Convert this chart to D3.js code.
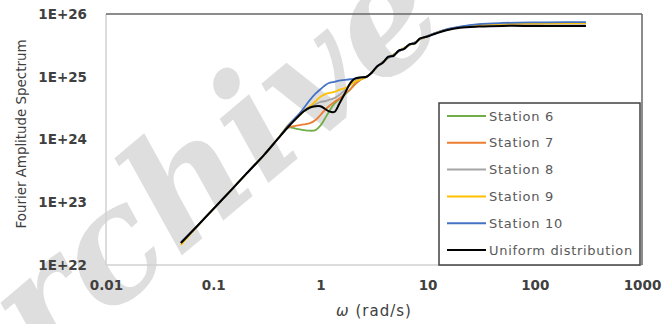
<!DOCTYPE html>
<html><head><meta charset="utf-8">
<script src="https://cdn.jsdelivr.net/npm/d3@7"></script>
<style>html,body{margin:0;padding:0;background:#fff;}svg{display:block;}</style>
</head><body>
<svg id="c" width="662" height="324"></svg>
<script>
const omega = [0.05,0.07,0.1,0.15,0.2,0.3,0.4,0.5,0.6,0.7,0.8,0.9,1.0,1.1,1.2,1.35,1.5,1.7,1.9,2.1,2.4,2.7,3.0,3.4,3.8,4.3,4.8,5.4,6.0,6.8,7.6,8.5,10,12,15,20,30,50,100,200,300];

const station6 = [2.24e22,4.07e22,7.76e22,1.62e23,2.75e23,5.75e23,1.02e24,1.55e24,1.48e24,1.41e24,1.38e24,1.41e24,1.66e24,2.14e24,2.75e24,3.72e24,4.37e24,5.25e24,6.31e24,7.59e24,9.12e24,1.0e25,1.15e25,1.45e25,1.70e25,2.0e25,2.25e25,2.55e25,2.85e25,3.2e25,3.5e25,3.95e25,4.45e25,5.0e25,5.65e25,6.2e25,6.7e25,6.95e25,7.05e25,7.1e25,7.1e25];
const station7 = [2.24e22,4.07e22,7.76e22,1.62e23,2.75e23,5.75e23,1.02e24,1.55e24,1.66e24,1.74e24,1.82e24,2.04e24,2.45e24,2.95e24,3.39e24,3.98e24,4.47e24,5.37e24,6.31e24,7.59e24,9.12e24,1.0e25,1.15e25,1.45e25,1.70e25,2.0e25,2.25e25,2.55e25,2.85e25,3.2e25,3.5e25,3.95e25,4.45e25,5.0e25,5.65e25,6.2e25,6.7e25,6.95e25,7.05e25,7.1e25,7.1e25];
const station8 = [2.24e22,4.07e22,7.76e22,1.62e23,2.75e23,5.75e23,1.02e24,1.66e24,2.34e24,2.82e24,3.24e24,3.63e24,3.98e24,4.07e24,4.27e24,4.57e24,5.13e24,6.17e24,7.41e24,8.51e24,9.55e24,1.0e25,1.15e25,1.45e25,1.70e25,2.0e25,2.25e25,2.55e25,2.85e25,3.2e25,3.5e25,3.95e25,4.45e25,5.0e25,5.65e25,6.2e25,6.7e25,6.95e25,7.05e25,7.1e25,7.1e25];
const station9 = [2.1e22,4.0e22,7.76e22,1.62e23,2.75e23,5.75e23,1.02e24,1.70e24,2.19e24,2.82e24,3.39e24,4.07e24,4.79e24,5.25e24,5.50e24,5.75e24,6.17e24,6.61e24,7.41e24,8.32e24,9.12e24,1.0e25,1.15e25,1.45e25,1.70e25,2.0e25,2.25e25,2.55e25,2.85e25,3.2e25,3.5e25,3.95e25,4.45e25,5.0e25,5.65e25,6.2e25,6.75e25,7.0e25,7.1e25,7.15e25,7.15e25];
const station10 = [2.3e22,4.1e22,7.8e22,1.62e23,2.75e23,5.75e23,1.02e24,1.66e24,2.29e24,3.16e24,4.27e24,5.37e24,6.31e24,7.24e24,7.94e24,8.32e24,8.71e24,8.91e24,9.12e24,9.33e24,9.77e24,1.0e25,1.17e25,1.45e25,1.70e25,2.0e25,2.2e25,2.55e25,2.8e25,3.25e25,3.5e25,4.0e25,4.45e25,5.0e25,5.7e25,6.3e25,6.9e25,7.2e25,7.35e25,7.4e25,7.4e25];
const uniform = [2.24e22,4.07e22,7.76e22,1.62e23,2.75e23,5.75e23,1.02e24,1.58e24,2.19e24,2.82e24,3.24e24,3.39e24,3.39e24,3.09e24,2.82e24,2.75e24,3.72e24,5.50e24,7.94e24,9.33e24,9.77e24,1.00e25,1.15e25,1.48e25,1.66e25,2.09e25,2.14e25,2.63e25,2.75e25,3.31e25,3.39e25,4.07e25,4.37e25,4.90e25,5.50e25,6.03e25,6.31e25,6.46e25,6.46e25,6.46e25,6.46e25];

const seriesNames = ["Station 6","Station 7","Station 8","Station 9","Station 10","Uniform distribution"];
const seriesColors = ["#70AD47","#ED7D31","#A5A5A5","#FFC000","#4472C4","#000000"];
const seriesValues = [station6,station7,station8,station9,station10,uniform];

const xTicks = [0.01,0.1,1,10,100,1000];
const xTickLabels = ["0.01","0.1","1","10","100","1000"];
const yTicks = [1e22,1e23,1e24,1e25,1e26];
const yTickLabels = ["1E+22","1E+23","1E+24","1E+25","1E+26"];

const svg = d3.select("#c");
const L = 106, R = 642, T = 14, B = 265;
const x = d3.scaleLog().domain([0.01,1000]).range([L,R]);
const y = d3.scaleLog().domain([1e22,1e26]).range([B,T]);
const font = "'DejaVu Sans', Verdana, sans-serif";

// watermark
svg.append("text")
  .attr("transform","translate(43,372) rotate(-40)")
  .attr("font-family","'DejaVu Serif','Liberation Serif',serif")
  .attr("font-style","italic").attr("font-weight","bold")
  .attr("font-size",155).attr("fill","#dedede")
  .text("rchive");

// frame
svg.append("line").attr("x1",L).attr("x2",L).attr("y1",T).attr("y2",B).attr("stroke","#d0d0d0").attr("stroke-width",1.5);
svg.append("line").attr("x1",L).attr("x2",R).attr("y1",B).attr("y2",B).attr("stroke","#d0d0d0").attr("stroke-width",1.5);
svg.append("line").attr("x1",L).attr("x2",R).attr("y1",T).attr("y2",T).attr("stroke","#666").attr("stroke-width",1.5);
svg.append("line").attr("x1",R).attr("x2",R).attr("y1",T).attr("y2",B).attr("stroke","#666").attr("stroke-width",1.5);

// axes
const xAxis = svg.append("g").attr("transform",`translate(0,${B})`)
  .call(d3.axisBottom(x).tickValues(xTicks).tickFormat((d,i)=>xTickLabels[i]).tickSize(0).tickPadding(15));
const yAxis = svg.append("g").attr("transform",`translate(${L},0)`)
  .call(d3.axisLeft(y).tickValues(yTicks).tickFormat((d,i)=>yTickLabels[i]).tickSize(0).tickPadding(19));
[xAxis,yAxis].forEach(g=>{
  g.select(".domain").remove();
  g.selectAll("text").attr("font-family",font).attr("font-size",13.5).attr("fill","#404040").attr("font-weight","bold");
});

// lines
const line = d3.line().x(d=>x(d[0])).y(d=>y(d[1])).curve(d3.curveCatmullRom.alpha(0.5));
seriesValues.forEach((vals,i)=>{
  svg.append("path").datum(omega.map((w,j)=>[w,vals[j]]))
    .attr("d",line).attr("fill","none").attr("stroke",seriesColors[i])
    .attr("stroke-width",i===5?2:1.8);
});

// axis titles
svg.append("text").attr("transform","translate(26,134) rotate(-90)")
  .attr("text-anchor","middle").attr("font-family",font).attr("font-size",13.4).attr("fill","#404040")
  .text("Fourier Amplitude Spectrum");
const xt = svg.append("text").attr("x",374).attr("y",316).attr("text-anchor","middle")
  .attr("font-family",font).attr("font-size",15).attr("letter-spacing",1).attr("fill","#404040");
xt.append("tspan").attr("font-style","italic").text("ω");
xt.append("tspan").text(" (rad/s)");

// legend
const lg = svg.append("g");
lg.append("rect").attr("x",439).attr("y",103).attr("width",201).attr("height",162)
  .attr("fill","#fff").attr("stroke","#404040").attr("stroke-width",1.5);
seriesNames.forEach((n,i)=>{
  const yy = 116 + i*26.8;
  lg.append("line").attr("x1",447).attr("x2",486).attr("y1",yy).attr("y2",yy)
    .attr("stroke",seriesColors[i]).attr("stroke-width",2);
  lg.append("text").attr("x",489).attr("y",yy).attr("dy","0.35em")
    .attr("font-family",font).attr("font-size",13).attr("letter-spacing",0.7).attr("fill","#595959").text(n);
});
</script>
</body></html>
